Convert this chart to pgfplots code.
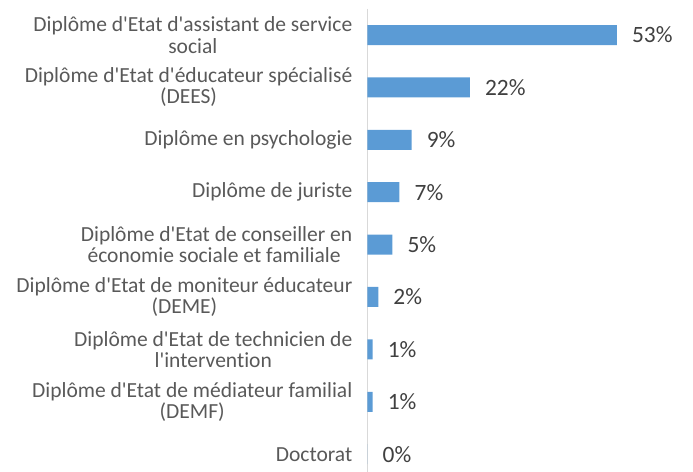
\documentclass[border=0pt]{standalone}
\usepackage{fontspec}
\setmainfont{Carlito}[Ligatures={TeXOff,NoCommon}]
\usepackage{pgfplots}
\pgfplotsset{compat=1.18}
\definecolor{barblue}{HTML}{5B9BD5}
\definecolor{labgray}{HTML}{595959}
\definecolor{valgray}{HTML}{404040}
\definecolor{axgray}{HTML}{D9D9D9}
\begin{document}
\begin{tikzpicture}
\begin{axis}[
    at={(0,0)}, anchor=south west,
    scale only axis,
    width=325.5bp, height=463.2bp,
    xbar, bar width=20bp,
    xmin=0, xmax=69.3,
    ymin=-0.5, ymax=8.34,
    y dir=reverse,
    axis x line=none,
    axis y line*=left,
    y axis line style={axgray, line width=1.5bp},
    ytick={0,...,8},
    major tick length=0pt,
    yticklabels={
        {Diplôme d'Etat d'assistant de service\\social},
        {Diplôme d'Etat d'éducateur spécialisé\\(DEES)},
        {Diplôme en psychologie},
        {Diplôme de juriste},
        {Diplôme d'Etat de conseiller en\\économie sociale et familiale\kern0.23em},
        {Diplôme d'Etat de moniteur éducateur\\(DEME)},
        {Diplôme d'Etat de technicien de\\l'intervention},
        {Diplôme d'Etat de médiateur familial\\(DEMF)},
        {Doctorat}},
    yticklabel style={align=center, text=labgray, inner sep=0pt, xshift=-15bp,
        font=\fontsize{21.6}{21.3}\selectfont},
    /pgf/number format/assume math mode=true,
    nodes near coords={\pgfmathprintnumber[fixed,precision=0,assume math mode=true]{\pgfplotspointmeta}\%},
    nodes near coords style={anchor=west, inner sep=0pt, xshift=15bp, text=valgray,
        font=\fontsize{23.5}{23.5}\selectfont},
]
\addplot[fill=barblue, draw=none] coordinates {
    (53.1,0) (21.8,1) (9.4,2) (6.8,3) (5.3,4) (2.3,5) (1.1,6) (1.1,7) (0,8)};
\end{axis}
\pgfresetboundingbox
\path (-367.5bp,0) rectangle (325.5bp,472bp);
\end{tikzpicture}
\end{document}
